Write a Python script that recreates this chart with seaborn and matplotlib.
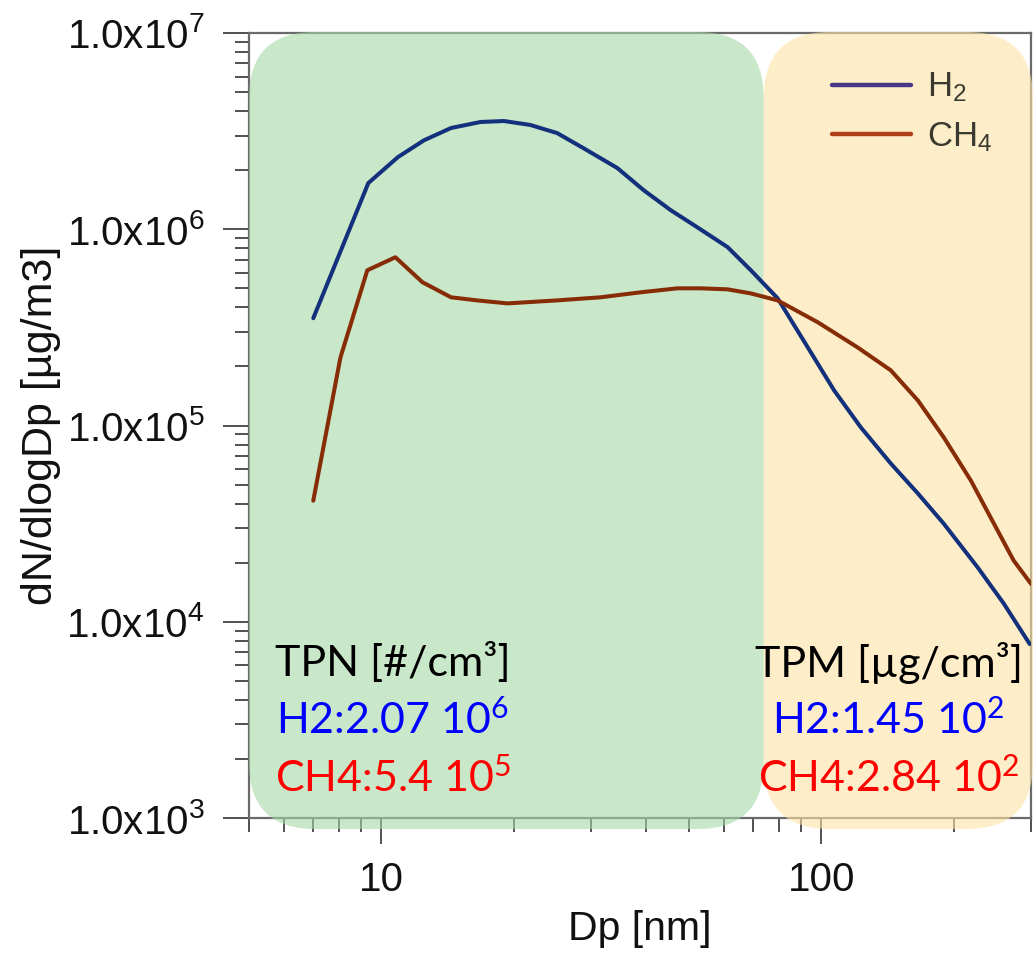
import numpy as np
import pandas as pd
import matplotlib
matplotlib.use("Agg")
import matplotlib.pyplot as plt
import seaborn as sns
from matplotlib.patches import FancyBboxPatch
from matplotlib.transforms import IdentityTransform
from matplotlib.ticker import LogLocator, NullFormatter, FuncFormatter, FixedLocator

# ---------------- data ----------------
dp_h2 = [7.0, 9.34, 10.9, 12.5, 14.4, 16.8, 19.0, 21.8, 25.1, 28.8, 34.4, 39.5,
         45.5, 52.4, 61.3, 69.2, 79.6, 91.2, 107, 123, 144, 166, 190, 227, 260, 298]
dn_h2 = [3.52e5, 1.72e6, 2.33e6, 2.84e6, 3.28e6, 3.52e6, 3.56e6, 3.40e6, 3.09e6,
         2.59e6, 2.05e6, 1.58e6, 1.25e6, 1.02e6, 8.1e5, 6.18e5, 4.45e5, 2.71e5,
         1.51e5, 9.8e4, 6.4e4, 4.5e4, 3.16e4, 1.89e4, 1.24e4, 7.7e3]
dp_ch4 = [7.0, 8.07, 9.29, 10.76, 12.4, 14.4, 16.5, 19.35, 25.1, 31.5, 38.8, 47.1,
          53.2, 61.3, 69.2, 79.6, 98.2, 121, 144, 166, 190, 219, 252, 274, 300]
dn_ch4 = [4.14e4, 2.22e5, 6.18e5, 7.2e5, 5.37e5, 4.5e5, 4.34e5, 4.19e5, 4.34e5,
          4.5e5, 4.77e5, 5.0e5, 5.0e5, 4.94e5, 4.71e5, 4.34e5, 3.36e5, 2.5e5,
          1.91e5, 1.34e5, 8.7e4, 5.24e4, 2.91e4, 2.05e4, 1.56e4]
series_names = ["H2", "CH4"]
legend_labels = [r"$\mathregular{H_2}$", r"$\mathregular{CH_4}$"]

x_ticks = [10, 100]
y_exponents = [3, 4, 5, 6, 7]
x_limits = (5, 300)
y_limits = (1e3, 1e7)

# region split (Dp, nm) between number (TPN) and mass (TPM) domains
tpn_range = (5, 74)
tpm_range = (74, 300)

tpn_lines = ["TPN [#/cm³]", r"H2:2.07 10$\mathregular{^{6}}$", r"CH4:5.4 10$\mathregular{^{5}}$"]
tpm_lines = ["TPM [µg/cm³]", r"H2:1.45 10$\mathregular{^{2}}$", r"CH4:2.84 10$\mathregular{^{2}}$"]
note_colors = ["black", "#0000FF", "#FF0000"]

# ---------------- figure ----------------
sns.set_theme(style="ticks")
plt.rcParams["font.family"] = ["Liberation Sans", "DejaVu Sans"]
plt.rcParams["mathtext.default"] = "regular"

df = pd.concat([
    pd.DataFrame({"Dp": dp_h2, "val": dn_h2, "gas": series_names[0]}),
    pd.DataFrame({"Dp": dp_ch4, "val": dn_ch4, "gas": series_names[1]}),
], ignore_index=True)

fig = plt.figure(figsize=(10.36, 9.58), dpi=100)
fig.patch.set_facecolor("white")
ax = fig.add_axes([249 / 1036, 140 / 958, 782 / 1036, 785 / 958])
ax.set_facecolor("white")

palette = {"H2": "#13307c", "CH4": "#862c06"}
sns.lineplot(data=df, x="Dp", y="val", hue="gas", palette=palette, ax=ax,
             estimator=None, sort=False, linewidth=2.9, zorder=3)
ax.set_xscale("log")
ax.set_yscale("log")
ax.set_xlim(*x_limits)
ax.set_ylim(*y_limits)

# ticks
ax.xaxis.set_major_locator(FixedLocator(x_ticks))
ax.xaxis.set_major_formatter(FuncFormatter(lambda v, p: f"{v:g}"))
ax.xaxis.set_minor_locator(LogLocator(base=10, subs=np.arange(2, 10)))
ax.xaxis.set_minor_formatter(NullFormatter())
ax.yaxis.set_major_locator(FixedLocator([10.0 ** e for e in y_exponents]))
ax.yaxis.set_major_formatter(FuncFormatter(
    lambda v, p: r"$\mathregular{1.0x10^{%d}}$" % int(round(np.log10(v)))))
ax.yaxis.set_minor_locator(LogLocator(base=10, subs=np.arange(2, 10)))
ax.yaxis.set_minor_formatter(NullFormatter())

ax.tick_params(which="major", direction="out", length=19, width=1.2,
               color="#333333", labelsize=29, labelcolor="#111111",
               top=False, right=False)
ax.tick_params(axis="y", which="major", pad=13)
ax.tick_params(axis="x", which="major", pad=12)
ax.tick_params(which="minor", direction="out", length=10, width=1.2,
               color="#333333", top=False, right=False)

for s in ["top", "right", "left", "bottom"]:
    ax.spines[s].set_visible(True)
    ax.spines[s].set_color("#6a6a6a")
    ax.spines[s].set_linewidth(1.6)

ax.set_xlabel("Dp [nm]", fontsize=29.5, color="#111111", labelpad=8)
ax.set_ylabel("dN/dlogDp [µg/m3]", fontsize=31, color="#111111", labelpad=4)

# legend
handles, _ = ax.get_legend_handles_labels()
leg = ax.legend(handles[:2], legend_labels, loc="upper left",
                bbox_to_anchor=(0.745, 0.952), frameon=False, fontsize=25,
                handlelength=2.3, handletextpad=0.45, labelspacing=0.45,
                borderpad=0, borderaxespad=0)
for t in leg.get_texts():
    t.set_color("#3a3a30")
for ln, c in zip(leg.get_lines(), ["#463a88", "#b0401a"]):
    ln.set_color(c)
    ln.set_linewidth(3.2)
leg.set_zorder(5)

# shaded rounded regions (drawn in pixel space from data limits)
def to_px(x, y):
    return ax.transData.transform((x, y))

gx0, ytop = to_px(tpn_range[0], y_limits[1])
gx1, ybot = to_px(tpn_range[1], y_limits[0])
ox0, _ = to_px(tpm_range[0], y_limits[1])
ox1, _ = to_px(tpm_range[1], y_limits[0])
ybot -= 11
ytop += 1

for (xa, xb), col in [((gx0, gx1), "#a5d7a5"), ((ox0, ox1 + 2), "#fde4a5")]:
    box = FancyBboxPatch((xa, ybot), xb - xa, ytop - ybot,
                         boxstyle="round,pad=0,rounding_size=66",
                         transform=IdentityTransform(), facecolor=col,
                         edgecolor="none", alpha=0.6, zorder=2.6, clip_on=False)
    ax.add_patch(box)

# annotations
note_y = [0.1975, 0.1248, 0.051]
for lines, xc in [(tpn_lines, 0.184), (tpm_lines, 0.818)]:
    for txt, yy, col in zip(lines, note_y, note_colors):
        ax.text(xc, yy, txt, transform=ax.transAxes, ha="center", va="center",
                fontsize=31, color=col, family=["Lato", "DejaVu Sans"], zorder=6)

fig.savefig("out.png", dpi=100)
